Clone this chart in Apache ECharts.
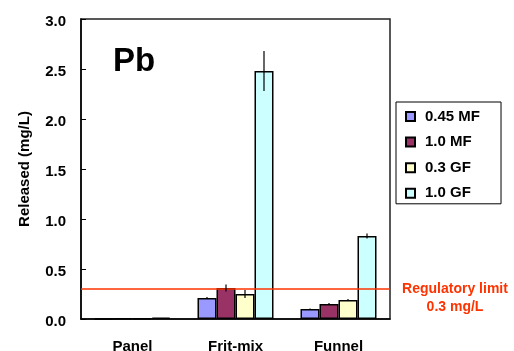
<!DOCTYPE html>
<html>
<head>
<meta charset="utf-8">
<script src="https://cdn.jsdelivr.net/npm/echarts@6/dist/echarts.min.js"></script>
<style>
  html, body { margin: 0; padding: 0; background: #fff; }
  #chart { width: 514px; height: 351px; }
</style>
</head>
<body>
<div id="chart"></div>
<script>
// Pb released per sampler type and filter
const categories = ['Panel', 'Frit-mix', 'Funnel'];
const seriesNames = ['0.45 MF', '1.0 MF', '0.3 GF', '1.0 GF'];

const mf045 = [0, 0.21, 0.10];
const mf10 = [0.006, 0.31, 0.15];
const gf03 = [0.006, 0.25, 0.19];
const gf10 = [0.015, 2.48, 0.83];

const mf045Err = [0, 0.01, 0.005];
const mf10Err = [0, 0.035, 0.01];
const gf03Err = [0, 0.04, 0.01];
const gf10Err = [0, 0.2, 0.025];

const regulatoryLimit = 0.3;
const limitLabel = ['Regulatory limit', '0.3 mg/L'];

const colors = ['#9999FF', '#993366', '#FFFFCC', '#CCFFFF'];
const FONT = 'Liberation Sans, Arial, sans-serif';
const BAR_W = 19;

const values = [mf045, mf10, gf03, gf10];
const errors = [mf045Err, mf10Err, gf03Err, gf10Err];

const chart = echarts.init(document.getElementById('chart'));

const barSeries = seriesNames.map((name, i) => ({
  name: name,
  type: 'bar',
  data: values[i],
  barWidth: BAR_W,
  barGap: '0%',
  itemStyle: { color: colors[i], borderColor: '#000', borderWidth: 1.5 },
  emphasis: { disabled: true },
  z: 2
}));

// regulatory limit line, attached to the first bar series
barSeries[0].markLine = {
  silent: true,
  symbol: 'none',
  lineStyle: { color: '#FF3300', width: 1.5, type: 'solid' },
  label: {
    show: true,
    position: 'end',
    distance: 65,
    align: 'center',
    offset: [0, 9],
    formatter: limitLabel.join('\n'),
    color: '#FF3300',
    fontWeight: 'bold',
    fontSize: 14,
    lineHeight: 18,
    fontFamily: FONT
  },
  data: [{ yAxis: regulatoryLimit }]
};

// error bars
const errData = [];
values.forEach((vals, s) => {
  vals.forEach((v, c) => errData.push([c, v, errors[s][c], s]));
});

const errSeries = {
  type: 'custom',
  silent: true,
  z: 5,
  renderItem: function (params, api) {
    const c = api.value(0), v = api.value(1), e = api.value(2), s = api.value(3);
    if (!e) return null;
    const n = seriesNames.length;
    const dx = (s - (n - 1) / 2) * BAR_W;
    const top = api.coord([c, v + e]);
    const bot = api.coord([c, v - e]);
    const x = top[0] + dx;
    return {
      type: 'line',
      shape: { x1: x, y1: top[1], x2: x, y2: bot[1] },
      style: { stroke: '#000', lineWidth: 1.2 }
    };
  },
  encode: { x: 0, y: 1 },
  data: errData
};

chart.setOption({
  animation: false,
  textStyle: { fontFamily: FONT },
  grid: {
    left: 81, right: 124, top: 19, bottom: 32,
    outerBoundsMode: 'none',
    containLabel: false,
    show: true, borderColor: '#222', borderWidth: 1.5
  },
  title: {
    text: 'Pb',
    left: 108, top: 40,
    textStyle: { fontSize: 33, fontWeight: 'bold', color: '#000', fontFamily: FONT }
  },
  legend: {
    data: seriesNames,
    orient: 'vertical',
    left: 396, top: 102,
    padding: [7, 21, 3, 9],
    itemGap: 10.6,
    itemWidth: 9, itemHeight: 9,
    icon: 'rect',
    borderColor: '#000', borderWidth: 1,
    textStyle: { fontSize: 15, fontWeight: 'bold', color: '#000', fontFamily: FONT, padding: [0, 0, 0, 5] }
  },
  xAxis: {
    type: 'category',
    data: categories,
    axisLine: { lineStyle: { color: '#000', width: 1.5 } },
    axisTick: { show: false },
    axisLabel: { color: '#000', fontSize: 15, fontWeight: 'bold', margin: 20, fontFamily: FONT }
  },
  yAxis: {
    type: 'value',
    min: 0, max: 3, interval: 0.5,
    name: 'Released (mg/L)',
    nameLocation: 'middle',
    nameGap: 49,
    nameTextStyle: { color: '#000', fontSize: 15, fontWeight: 'bold', fontFamily: FONT },
    axisLine: { show: true, lineStyle: { color: '#000', width: 1.5 } },
    axisTick: { show: true, inside: true, length: 5, lineStyle: { color: '#000' } },
    splitLine: { show: false },
    axisLabel: {
      color: '#000', fontSize: 15, fontWeight: 'bold', margin: 15, fontFamily: FONT,
      verticalAlign: 'top', lineHeight: 5,
      formatter: v => v.toFixed(1)
    }
  },
  series: barSeries.concat([errSeries])
});
</script>
</body>
</html>
